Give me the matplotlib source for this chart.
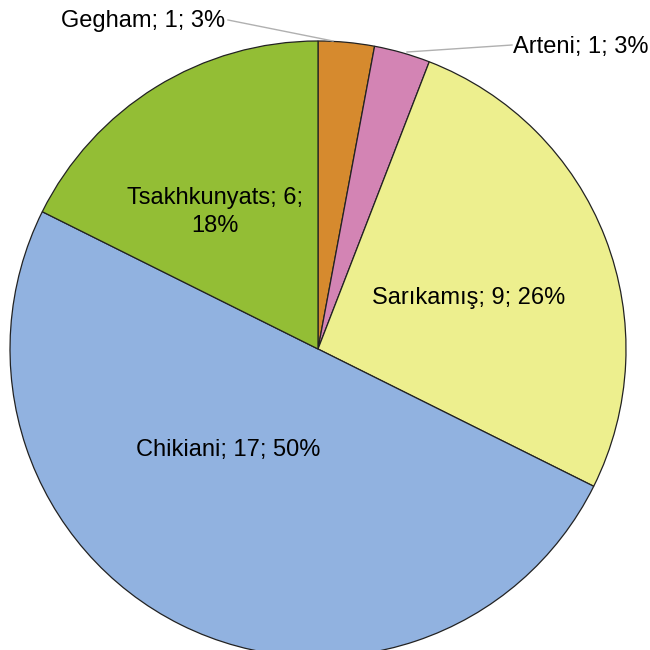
import matplotlib
matplotlib.use("Agg")
import matplotlib.pyplot as plt

names = ["Gegham", "Arteni", "Sarıkamış", "Chikiani", "Tsakhkunyats"]
counts = [1, 1, 9, 17, 6]
percents = ["3%", "3%", "26%", "50%", "18%"]
colors = ["#D68A2E", "#D384B4", "#EDEF8E", "#91B2E0", "#93BE35"]

plt.rcParams['font.family'] = ['Liberation Sans', 'DejaVu Sans']

fig = plt.figure(figsize=(6.5, 6.5), dpi=100)
ax = fig.add_axes([0, 0, 1, 1])

# pie centre/radius in pixel units (y measured from the bottom)
cx, cy, r = 318, 650 - 349, 308
ax.pie(counts, colors=colors, startangle=90, counterclock=False,
       center=(cx, cy), radius=r, frame=True,
       wedgeprops=dict(edgecolor='#222222', linewidth=0.9))
ax.set_xlim(0, 650)
ax.set_ylim(0, 650)
ax.set_aspect('equal')
ax.axis('off')

labels = ["{}; {}; {}".format(n, c, p) for n, c, p in zip(names, counts, percents)]
fs = 17

# outside labels with leader lines
ax.plot([228, 333], [650 - 20, 650 - 41], color='#b0b0b0', lw=1)
ax.text(143.5, 650 - 21, labels[0], ha='center', va='center', fontsize=fs)
ax.plot([407, 512], [650 - 52, 650 - 45], color='#b0b0b0', lw=1)
ax.text(581, 650 - 47, labels[1], ha='center', va='center', fontsize=fs)

# inside labels
ax.text(469, 650 - 298, labels[2], ha='center', va='center', fontsize=fs)
ax.text(228, 650 - 450, labels[3], ha='center', va='center', fontsize=fs)
ax.text(215, 650 - 212, "{}; {};\n{}".format(names[4], counts[4], percents[4]),
        ha='center', va='center', fontsize=fs, linespacing=1.35)

fig.savefig("out.png", dpi=100)
